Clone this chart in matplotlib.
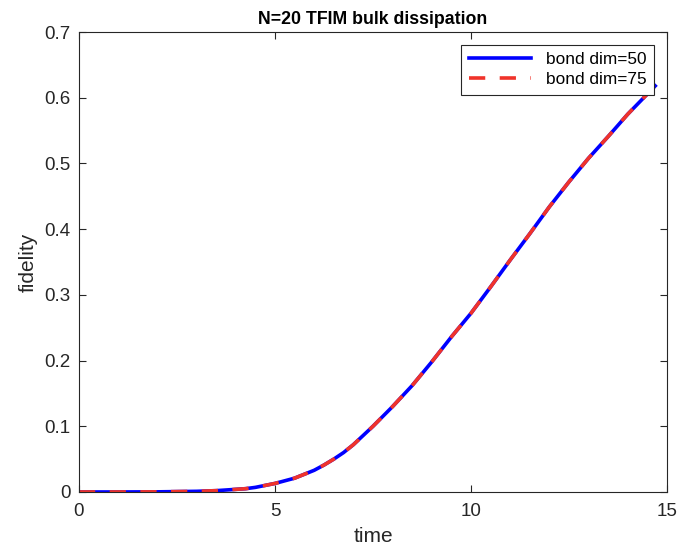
import matplotlib
matplotlib.use("Agg")
import matplotlib.pyplot as plt

# fidelity vs time
time = [0, 1, 2, 3, 3.5, 4, 4.25, 4.5, 4.75, 5, 5.25, 5.5, 5.75, 6, 6.25, 6.5,
        6.75, 7, 7.25, 7.5, 7.75, 8, 8.25, 8.5, 8.75, 9, 9.5, 10, 10.5, 11,
        11.5, 12, 12.5, 13, 13.5, 14, 14.7]
fid_50 = [0, 0, 0.0002, 0.001, 0.002, 0.004, 0.005, 0.007, 0.010, 0.013, 0.017,
          0.021, 0.027, 0.033, 0.041, 0.050, 0.060, 0.072, 0.086, 0.100, 0.115,
          0.130, 0.146, 0.162, 0.180, 0.198, 0.236, 0.272, 0.312, 0.353, 0.393,
          0.434, 0.472, 0.508, 0.541, 0.575, 0.618]
fid_75 = fid_50  # the two bond dims overlap

plt.rcParams['font.family'] = ['Liberation Sans', 'DejaVu Sans']
axcol = '#262626'

fig = plt.figure(figsize=(6.79, 5.5), dpi=100)
ax = fig.add_axes([0.1163, 0.1055, 0.866, 0.8363])

ax.plot(time, fid_50, color='#0000ff', lw=2.6, label='bond dim=50')
ax.plot(time, fid_75, color='#f0332a', lw=2.6, dashes=(4.5, 4), label='bond dim=75')

ax.set_xlim(0, 15)
ax.set_ylim(0, 0.7)
ax.set_xticks([0, 5, 10, 15])
ax.set_yticks([0, 0.1, 0.2, 0.3, 0.4, 0.5, 0.6, 0.7])
ax.set_yticklabels(['0', '0.1', '0.2', '0.3', '0.4', '0.5', '0.6', '0.7'])

ax.tick_params(direction='in', length=5, width=0.8, colors=axcol,
               top=True, right=True, labelsize=13.5)
ax.tick_params(axis='y', pad=6)
ax.tick_params(axis='x', pad=8)
for s in ax.spines.values():
    s.set_color(axcol)
    s.set_linewidth(0.8)

ax.set_xlabel('time', fontsize=15, color=axcol, labelpad=5)
ax.set_ylabel('fidelity', fontsize=15, color=axcol, labelpad=5)
ax.set_title('N=20 TFIM bulk dissipation', fontsize=12.8, fontweight='bold', pad=6)

leg = ax.legend(loc='upper right', fontsize=12.4, fancybox=False, framealpha=1,
                edgecolor=axcol, handlelength=3.6, borderaxespad=0.75,
                borderpad=0.42, labelspacing=0.3, handletextpad=0.9)
leg.get_frame().set_linewidth(0.8)

fig.savefig('out.png', dpi=100)
